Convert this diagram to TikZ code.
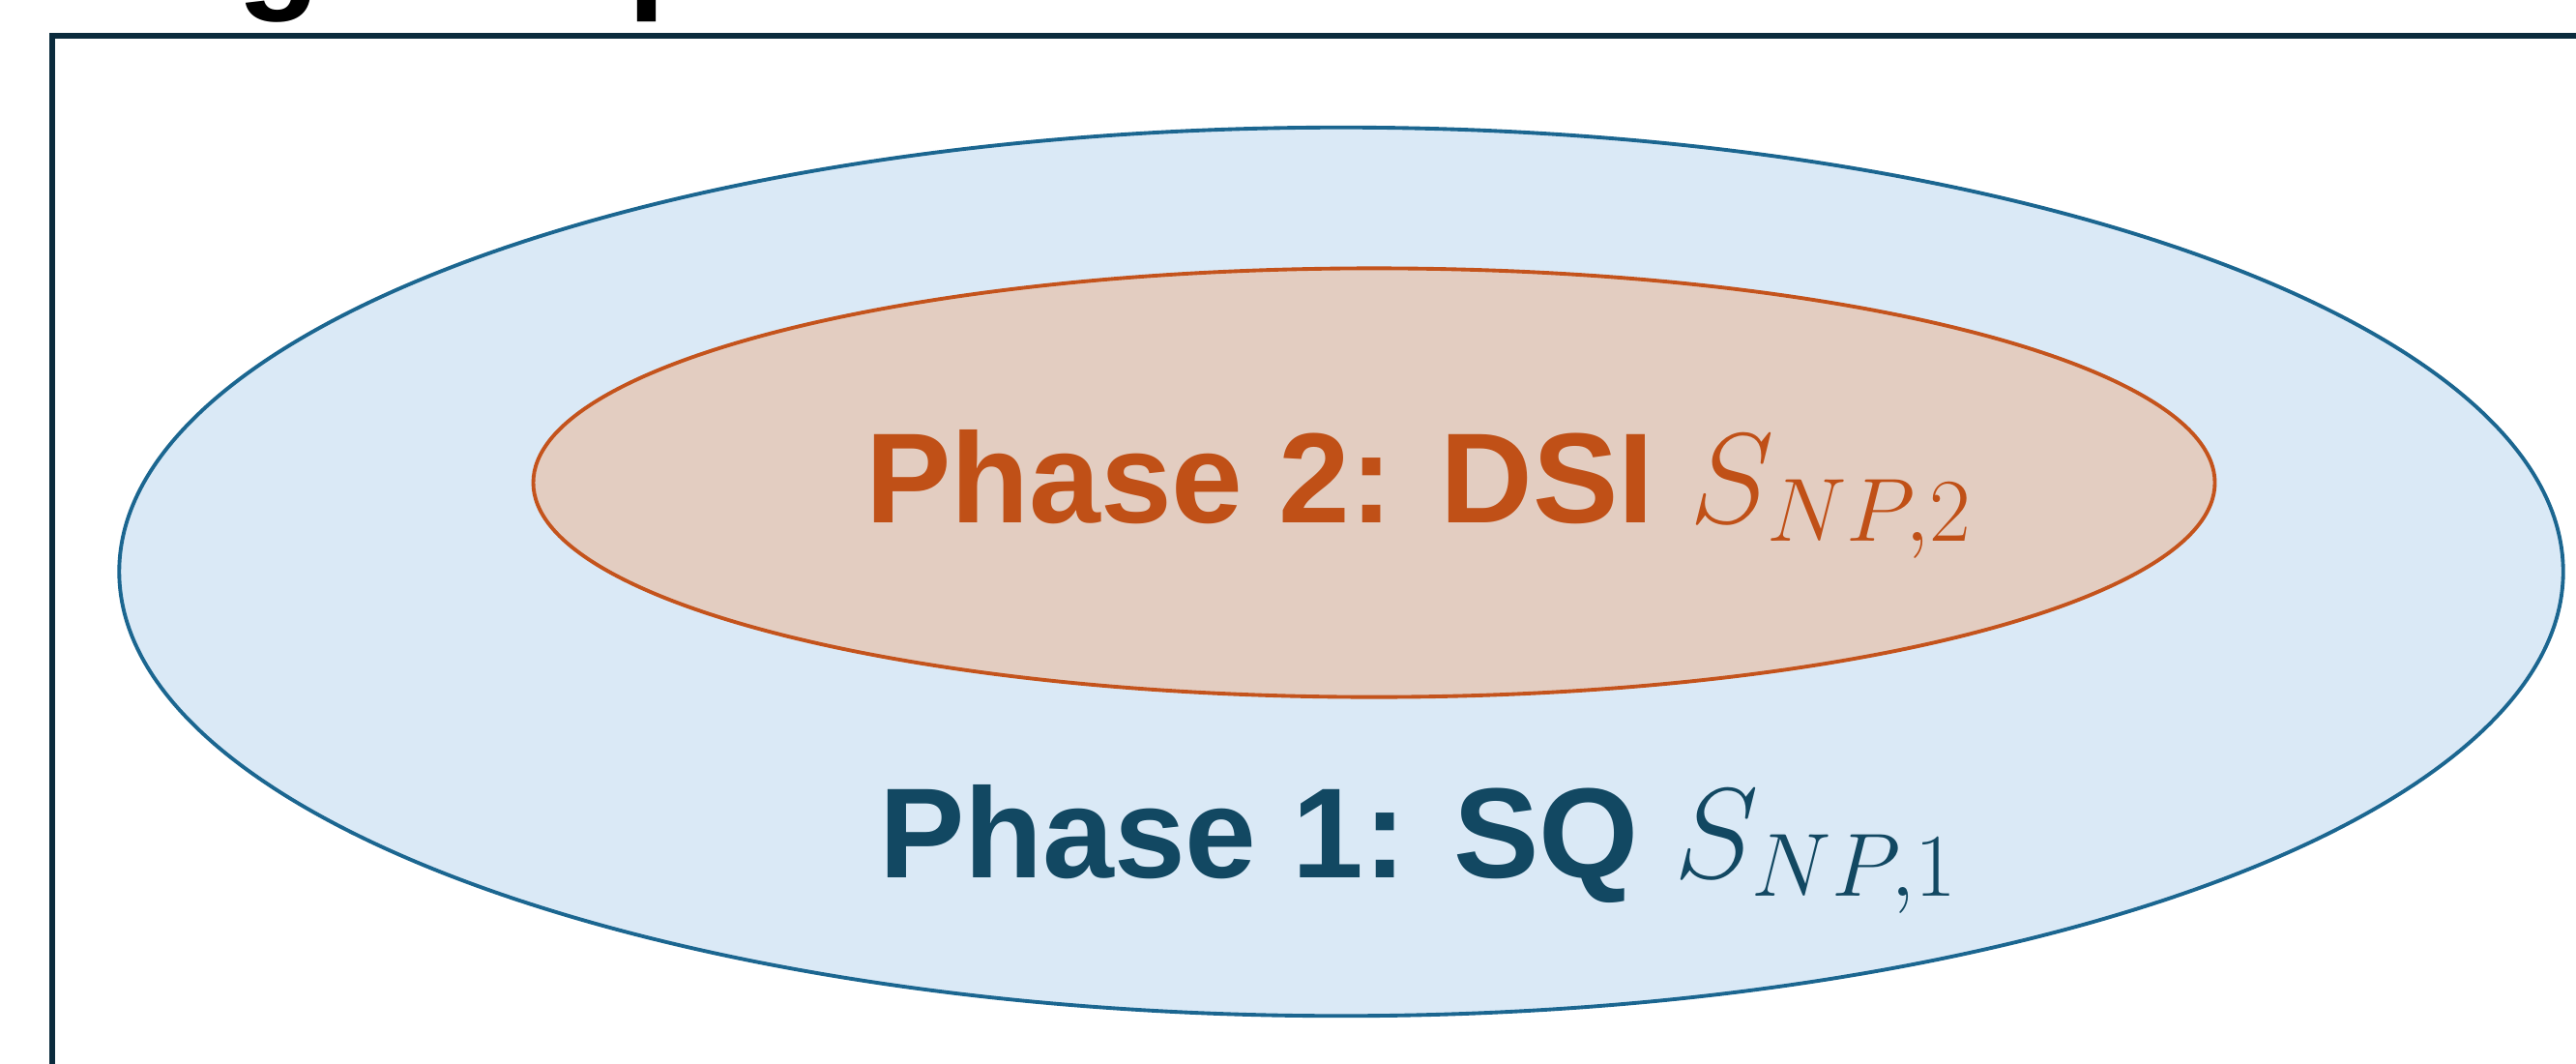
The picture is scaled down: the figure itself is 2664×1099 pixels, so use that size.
\RequirePackage{fix-cm}
\documentclass[tikz,border=0pt]{standalone}
\usepackage{fontspec}
\setmainfont{Liberation Sans}
\usetikzlibrary{shapes.geometric}

\definecolor{framenavy}{HTML}{0B2B3D}
\definecolor{oneline}{HTML}{1B6690}
\definecolor{onefill}{HTML}{DAE9F6}
\definecolor{onetext}{HTML}{124862}
\definecolor{twoline}{HTML}{C4531C}
\definecolor{twofill}{HTML}{E3CDC1}
\definecolor{twotext}{HTML}{C05017}

\newcommand{\phasefont}{\fontsize{37.7}{45}\selectfont\bfseries}
\newcommand{\headfont}{\fontsize{40}{48}\selectfont\bfseries}

\begin{document}
\begin{tikzpicture}
  [x=0.01cm,y=-0.01cm,every node/.style={inner sep=0pt,outer sep=0pt}]
\useasboundingbox (0,0) rectangle (2664,1099);
\clip (0,0) rectangle (2664,1099);

% bottom of the heading, cut by the page edge
\node (hg)[anchor=base west,font=\headfont] at (245,-7) {g};
\node (hp)[anchor=base west,font=\headfont] at (649,-7) {p};

% frame, runs off to the right and the bottom
\draw[framenavy,line width=1.5pt] (2720,37) -- (54,37) -- (54,1150);

% the two phases
\node (outer)[ellipse,draw=oneline,fill=onefill,line width=1.1pt,
  minimum width=25.26cm,minimum height=9.18cm] at (1387,591) {};
\node (inner)[ellipse,draw=twoline,fill=twofill,line width=1.1pt,
  minimum width=17.38cm,minimum height=4.43cm] at (1421,499) {};

\node (two)[anchor=base west,text=twotext] at (895,540)
  {\phasefont Phase 2: DSI $S_{NP,2}$};
\node (one)[anchor=base west,text=onetext] at (909,907)
  {\phasefont Phase 1: SQ $S_{NP,1}$};
\end{tikzpicture}
\end{document}
